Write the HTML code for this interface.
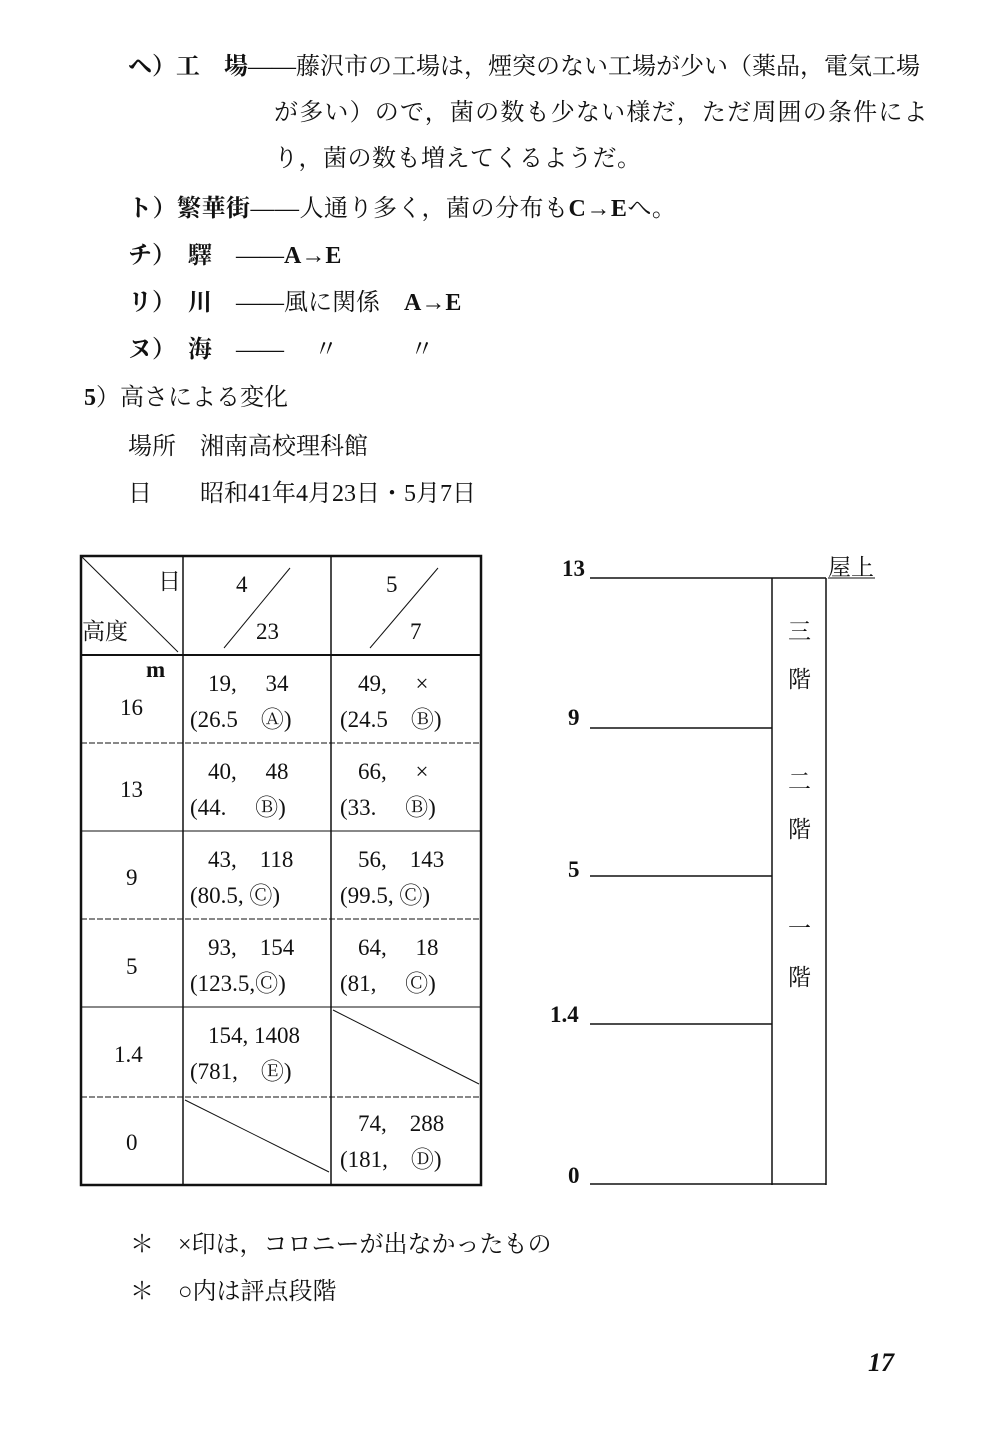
<!DOCTYPE html>
<html><head><meta charset="utf-8"><style>
body{margin:0;background:#fff;}
.p{position:relative;width:1000px;height:1436px;font-family:"Liberation Serif","Noto Serif CJK SC","Noto Sans CJK JP",serif;color:#111;}
.t{position:absolute;font-size:24px;white-space:nowrap;line-height:1;}
.b{font-weight:bold}
.c{position:absolute;font-size:23px;white-space:nowrap;line-height:1;}
svg{position:absolute;left:0;top:0}
</style></head><body><div class="p">
<div class="t" style="left:128px;top:55px"><span class="b">ヘ）工　場</span>——藤沢市の工場は，煙突のない工場が少い（薬品，電気工場</div>
<div class="t" style="left:274px;top:101px;letter-spacing:1.2px">が多い）ので，菌の数も少ない様だ，ただ周囲の条件によ</div>
<div class="t" style="left:274px;top:147px;letter-spacing:0.5px">り，菌の数も増えてくるようだ。</div>
<div class="t" style="left:128px;top:197px;letter-spacing:0.5px"><span class="b">ト）繁華街</span>——人通り多く，菌の分布も<b>C→E</b>へ。</div>
<div class="t" style="left:128px;top:244px"><span class="b">チ）　驛</span>　——<b>A→E</b></div>
<div class="t" style="left:128px;top:291px"><span class="b">リ）　川</span>　——風に関係　<b>A→E</b></div>
<div class="t" style="left:128px;top:338px"><span class="b">ヌ）　海</span>　——　 〃　　　〃</div>
<div class="t" style="left:84px;top:386px"><b>5</b>）高さによる変化</div>
<div class="t" style="left:128px;top:435px">場所　湘南高校理科館</div>
<div class="t" style="left:128px;top:482px">日　　昭和41年4月23日・5月7日</div>

<svg width="1000" height="1436">
<g stroke="#111" fill="none">
<rect x="81" y="556" width="400" height="629" stroke-width="2.5"/>
<line x1="183" y1="556" x2="183" y2="1185" stroke-width="1.5"/>
<line x1="331" y1="556" x2="331" y2="1185" stroke-width="1.5"/>
<line x1="81" y1="655" x2="481" y2="655" stroke-width="2"/>
<line x1="81" y1="743" x2="481" y2="743" stroke-width="1" stroke-dasharray="6,2"/>
<line x1="81" y1="831" x2="481" y2="831" stroke-width="1"/>
<line x1="81" y1="919" x2="481" y2="919" stroke-width="1" stroke-dasharray="6,2"/>
<line x1="81" y1="1007" x2="481" y2="1007" stroke-width="1"/>
<line x1="81" y1="1097" x2="481" y2="1097" stroke-width="1" stroke-dasharray="6,2"/>
<line x1="81" y1="556" x2="178" y2="652" stroke-width="1"/>
<line x1="224" y1="648" x2="290" y2="568" stroke-width="1"/>
<line x1="370" y1="648" x2="438" y2="568" stroke-width="1"/>
<line x1="333" y1="1010" x2="479" y2="1084" stroke-width="1"/>
<line x1="185" y1="1100" x2="329" y2="1172" stroke-width="1"/>
<line x1="772" y1="578" x2="772" y2="1185" stroke-width="1.5"/>
<line x1="826" y1="578" x2="826" y2="1185" stroke-width="1.5"/>
<line x1="590" y1="578" x2="826" y2="578" stroke-width="1.5"/>
<line x1="590" y1="728" x2="772" y2="728" stroke-width="1.5"/>
<line x1="590" y1="876" x2="772" y2="876" stroke-width="1.5"/>
<line x1="590" y1="1024" x2="772" y2="1024" stroke-width="1.5"/>
<line x1="590" y1="1184" x2="826" y2="1184" stroke-width="1.5"/>
<line x1="828" y1="578" x2="875" y2="578" stroke-width="1"/>
</g></svg>

<div class="c" style="left:158px;top:570px">日</div>
<div class="c" style="left:82px;top:620px">高度</div>
<div class="c" style="left:236px;top:573px">4</div>
<div class="c" style="left:256px;top:620px">23</div>
<div class="c" style="left:386px;top:573px">5</div>
<div class="c" style="left:410px;top:620px">7</div>

<div class="c b" style="left:146px;top:658px">m</div>
<div class="c" style="left:120px;top:696px">16</div>
<div class="c" style="left:208px;top:672px">19,　 34</div>
<div class="c" style="left:190px;top:708px">(26.5　Ⓐ)</div>
<div class="c" style="left:358px;top:672px">49,　 ×</div>
<div class="c" style="left:340px;top:708px">(24.5　Ⓑ)</div>

<div class="c" style="left:120px;top:778px">13</div>
<div class="c" style="left:208px;top:760px">40,　 48</div>
<div class="c" style="left:190px;top:796px">(44.　 Ⓑ)</div>
<div class="c" style="left:358px;top:760px">66,　 ×</div>
<div class="c" style="left:340px;top:796px">(33.　 Ⓑ)</div>

<div class="c" style="left:126px;top:866px">9</div>
<div class="c" style="left:208px;top:848px">43,　118</div>
<div class="c" style="left:190px;top:884px">(80.5, Ⓒ)</div>
<div class="c" style="left:358px;top:848px">56,　143</div>
<div class="c" style="left:340px;top:884px">(99.5, Ⓒ)</div>

<div class="c" style="left:126px;top:955px">5</div>
<div class="c" style="left:208px;top:936px">93,　154</div>
<div class="c" style="left:190px;top:972px">(123.5,Ⓒ)</div>
<div class="c" style="left:358px;top:936px">64,　 18</div>
<div class="c" style="left:340px;top:972px">(81,　 Ⓒ)</div>

<div class="c" style="left:114px;top:1043px">1.4</div>
<div class="c" style="left:208px;top:1024px">154, 1408</div>
<div class="c" style="left:190px;top:1060px">(781,　Ⓔ)</div>

<div class="c" style="left:126px;top:1131px">0</div>
<div class="c" style="left:358px;top:1112px">74,　288</div>
<div class="c" style="left:340px;top:1148px">(181,　Ⓓ)</div>

<div class="c b" style="left:562px;top:557px">13</div>
<div class="c b" style="left:568px;top:706px">9</div>
<div class="c b" style="left:568px;top:858px">5</div>
<div class="c b" style="left:550px;top:1003px">1.4</div>
<div class="c b" style="left:568px;top:1164px">0</div>
<div class="c" style="left:828px;top:556px">屋上</div>
<div class="c" style="left:788px;top:620px">三</div>
<div class="c" style="left:788px;top:668px">階</div>
<div class="c" style="left:788px;top:770px">二</div>
<div class="c" style="left:788px;top:818px">階</div>
<div class="c" style="left:788px;top:917px">一</div>
<div class="c" style="left:788px;top:966px">階</div>

<div class="t" style="left:130px;top:1233px">＊　×印は，コロニーが出なかったもの</div>
<div class="t" style="left:130px;top:1280px">＊　○内は評点段階</div>
<div class="t b" style="left:868px;top:1350px;font-style:italic;font-size:26px">17</div>
</div></body></html>
